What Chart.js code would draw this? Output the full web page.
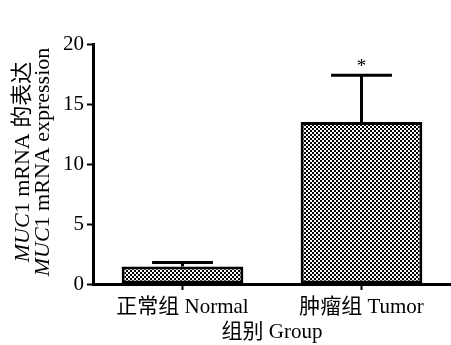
<!DOCTYPE html>
<html>
<head>
<meta charset="utf-8">
<script src="https://cdn.jsdelivr.net/npm/chart.js@4"></script>
<style>
  html, body { margin: 0; padding: 0; background: #fff; }
  #chart { display: block; }
</style>
</head>
<body>
<canvas id="chart" width="451" height="345"></canvas>
<script>
// --- data ---
const groups = ['正常组 Normal', '肿瘤组 Tumor'];
const means = [1.45, 13.5];
const upperErr = [0.35, 3.9];
const marks = ['', '*'];
const yTicks = [0, 5, 10, 15, 20];

const serif = "'Liberation Serif', 'Noto Sans CJK SC', serif";

// checkerboard fill like the original print
function makeChecker() {
    const c = document.createElement('canvas');
    c.width = 4; c.height = 4;
    const g = c.getContext('2d');
    g.fillStyle = '#fff';
    g.fillRect(0, 0, 4, 4);
    g.fillStyle = '#000';
    g.fillRect(0, 0, 2, 2);
    g.fillRect(2, 2, 2, 2);
    return g.createPattern(c, 'repeat');
}
const checker = makeChecker();

// error bars (upper only) + significance mark
const errorBarPlugin = {
    id: 'errorBars',
    afterDatasetsDraw(chart) {
        const ctx = chart.ctx;
        const y = chart.scales.y;
        const meta = chart.getDatasetMeta(0);
        ctx.save();
        ctx.strokeStyle = '#000';
        ctx.lineWidth = 3;
        meta.data.forEach((bar, i) => {
            const x = bar.x;
            const yTop = y.getPixelForValue(means[i] + upperErr[i]);
            const yMean = y.getPixelForValue(means[i]);
            const half = bar.width / 4;
            ctx.beginPath();
            ctx.moveTo(x, yMean);
            ctx.lineTo(x, yTop);
            ctx.moveTo(x - half, yTop);
            ctx.lineTo(x + half, yTop);
            ctx.stroke();
            if (marks[i]) {
                ctx.fillStyle = '#000';
                ctx.font = '19px ' + serif;
                ctx.textAlign = 'center';
                ctx.textBaseline = 'middle';
                ctx.fillText(marks[i], x, yTop - 8);
            }
        });
        ctx.restore();
    }
};

// y title: two rotated lines, gene name in italics
const yTitlePlugin = {
    id: 'yTitle',
    afterDraw(chart) {
        const ctx = chart.ctx;
        const area = chart.chartArea;
        const cy = (area.top + area.bottom) / 2 - 2;
        const lines = [
            { x: 23, parts: [['MUC', true], ['1 mRNA 的表达', false]] },
            { x: 43, parts: [['MUC', true], ['1 mRNA expression', false]] }
        ];
        ctx.save();
        ctx.fillStyle = '#000';
        ctx.textBaseline = 'middle';
        ctx.textAlign = 'left';
        lines.forEach(line => {
            let total = 0;
            line.parts.forEach(p => {
                ctx.font = (p[1] ? 'italic ' : '') + '22px ' + serif;
                total += ctx.measureText(p[0]).width;
            });
            ctx.save();
            ctx.translate(line.x, cy);
            ctx.rotate(-Math.PI / 2);
            let pos = -total / 2;
            line.parts.forEach(p => {
                ctx.font = (p[1] ? 'italic ' : '') + '22px ' + serif;
                ctx.fillText(p[0], pos, 0);
                pos += ctx.measureText(p[0]).width;
            });
            ctx.restore();
        });
        ctx.restore();
    }
};

new Chart(document.getElementById('chart'), {
    type: 'bar',
    data: {
        labels: groups,
        datasets: [{
            data: means,
            backgroundColor: checker,
            borderColor: '#000',
            borderWidth: 3,
            borderSkipped: false,
            barPercentage: 0.68,
            categoryPercentage: 1
        }]
    },
    options: {
        responsive: false,
        animation: false,
        layout: { padding: { top: 44, right: 0, left: 0, bottom: 0 } },
        plugins: { legend: { display: false }, tooltip: { enabled: false } },
        scales: {
            x: {
                grid: { drawOnChartArea: false, offset: false, tickLength: 6, tickWidth: 2, tickColor: '#000' },
                border: { color: '#000', width: 3 },
                ticks: { color: '#000', font: { family: serif, size: 21 }, padding: 5, maxRotation: 0 },
                title: { display: true, text: '组别 Group', color: '#000', font: { family: serif, size: 21 }, padding: 0 },
                afterFit(scale) { scale.height = 61; }
            },
            y: {
                min: 0,
                max: 20,
                afterBuildTicks(scale) { scale.ticks = yTicks.map(v => ({ value: v })); },
                grid: { drawOnChartArea: false, tickLength: 6, tickWidth: 2, tickColor: '#000' },
                border: { color: '#000', width: 3 },
                ticks: { color: '#000', font: { family: serif, size: 21 }, padding: 3 },
                afterFit(scale) { scale.width = 93; }
            }
        }
    },
    plugins: [errorBarPlugin, yTitlePlugin]
});
</script>
</body>
</html>
